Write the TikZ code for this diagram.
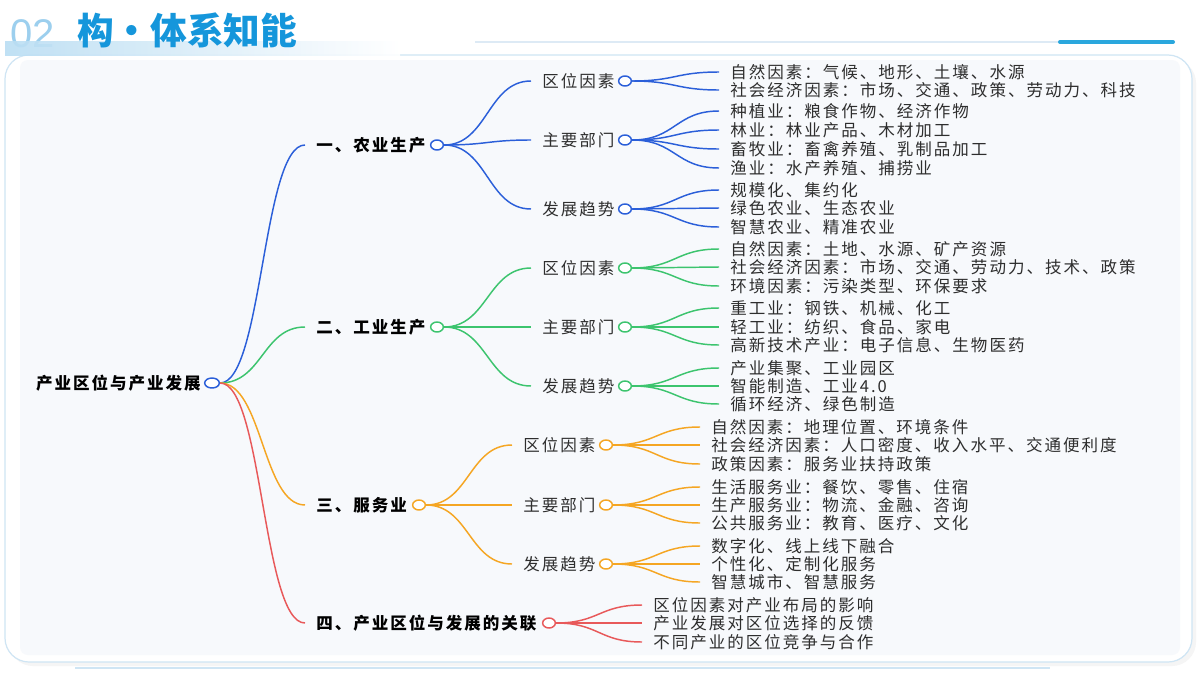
\documentclass[tikz,border=0pt]{standalone}
\usepackage{fontspec}
\usetikzlibrary{calc,shapes.geometric}
\setmainfont{Liberation Sans}
\newfontfamily\cjk{Noto Sans CJK SC}[LetterSpace=12]
\newfontfamily\cjkt{Noto Sans CJK SC}
\definecolor{cb}{HTML}{2B5FD9}
\definecolor{cg}{HTML}{3CC46E}
\definecolor{co}{HTML}{F5A623}
\definecolor{cr}{HTML}{E8595A}
\definecolor{ttl}{HTML}{1596DB}
\definecolor{num}{HTML}{9CCFEE}
\definecolor{txt}{HTML}{2E2E2E}
\definecolor{cardedge}{HTML}{CFE5F4}
\definecolor{panel}{HTML}{F7F9FC}
\definecolor{thinline}{HTML}{DDEAF5}
\definecolor{accent}{HTML}{2AA7DD}
\newcommand\mmlink[3]{\path[lnk=#1] let \p1=(#2.east),\p2=(#3.west) in (\p1) .. controls ({(\x1+\x2)/2},\y1) and ({(\x1+\x2)/2},\y2) .. (\p2);}
\tikzset{
  lbl/.style={anchor=west,inner xsep=8.25pt,inner ysep=0pt,text=txt,font=\cjk\fontsize{12.4pt}{14pt}\selectfont},
  lblb/.style={lbl,text=black,font=\cjk\bfseries\fontsize{12.4pt}{14pt}\selectfont},
  dot/.style={ellipse,draw=#1,fill=white,line width=1.1pt,minimum width=9.5pt,minimum height=7.5pt,inner sep=0pt},
  lnk/.style={draw=#1,line width=1.1pt},
  card/.style={draw=cardedge,line width=0.9pt,fill=white,rounded corners=18pt},
}
\begin{document}
\begin{tikzpicture}[x=0.75pt,y=-0.75pt]
\useasboundingbox (0,0) rectangle (1200,675);
\fill[white] (0,0) rectangle (1200,675);
% card
\fill[black!4,rounded corners=18pt] (9,59) rectangle (1196,666);
\path[card] (5,55) rectangle (1192,662);
\fill[panel,rounded corners=6pt] (20,60) rectangle (1180,655);
% title
\node[font=\fontsize{30pt}{32pt}\selectfont,text=num] (n02) at (33,34) {02};
\shade[left color=num!70,right color=white,fill opacity=0.9] (5,41) rectangle (400,55);
\node[anchor=west,inner sep=0pt,text=ttl,font=\cjkt\bfseries\fontsize{27.5pt}{30pt}\selectfont] (title) at (77,30) {构・体系知能};
\draw[thinline,line width=0.8pt] (475,42) -- (1058,42);
\draw[accent,line width=3pt,line cap=round] (1060,42) -- (1173,42);
\draw[cardedge,line width=1.5pt] (75,668) -- (1050,668);
% root
\node[lblb,anchor=east,inner xsep=0pt] (r) at (201,383) {产业区位与产业发展};
\node[dot=cb,minimum width=11pt] (rc) at (212,383) {};
% level 1
\node[lblb] (a) at (305,145) {一、农业生产}; \node[dot=cb] (ac) at (437,145) {};
\node[lblb] (b) at (305,327) {二、工业生产}; \node[dot=cg] (bc) at (437,327) {};
\node[lblb] (c) at (305,505) {三、服务业}; \node[dot=co] (cc) at (419,505) {};
\node[lblb] (d) at (305,623) {四、产业区位与发展的关联}; \node[dot=cr] (dc) at (549,623) {};
% level 2 agri
\node[lbl] (a1) at (531,81) {区位因素}; \node[dot=cb] (a1c) at (625,81) {};
\node[lbl] (a2) at (531,140) {主要部门}; \node[dot=cb] (a2c) at (625,140) {};
\node[lbl] (a3) at (531,209) {发展趋势}; \node[dot=cb] (a3c) at (625,209) {};
% level 2 industry
\node[lbl] (b1) at (531,268) {区位因素}; \node[dot=cg] (b1c) at (625,268) {};
\node[lbl] (b2) at (531,327) {主要部门}; \node[dot=cg] (b2c) at (625,327) {};
\node[lbl] (b3) at (531,386) {发展趋势}; \node[dot=cg] (b3c) at (625,386) {};
% level 2 service
\node[lbl] (c1) at (512,445) {区位因素}; \node[dot=co] (c1c) at (606,445) {};
\node[lbl] (c2) at (512,505) {主要部门}; \node[dot=co] (c2c) at (606,505) {};
\node[lbl] (c3) at (512,564) {发展趋势}; \node[dot=co] (c3c) at (606,564) {};
% level 3 agri
\node[lbl] (a11) at (719,72) {自然因素：气候、地形、土壤、水源};
\node[lbl] (a12) at (719,90) {社会经济因素：市场、交通、政策、劳动力、科技};
\node[lbl] (a21) at (719,111) {种植业：粮食作物、经济作物};
\node[lbl] (a22) at (719,130) {林业：林业产品、木材加工};
\node[lbl] (a23) at (719,149) {畜牧业：畜禽养殖、乳制品加工};
\node[lbl] (a24) at (719,168) {渔业：水产养殖、捕捞业};
\node[lbl] (a31) at (719,190) {规模化、集约化};
\node[lbl] (a32) at (719,208) {绿色农业、生态农业};
\node[lbl] (a33) at (719,227) {智慧农业、精准农业};
% level 3 industry
\node[lbl] (b11) at (719,249) {自然因素：土地、水源、矿产资源};
\node[lbl] (b12) at (719,267) {社会经济因素：市场、交通、劳动力、技术、政策};
\node[lbl] (b13) at (719,286) {环境因素：污染类型、环保要求};
\node[lbl] (b21) at (719,308) {重工业：钢铁、机械、化工};
\node[lbl] (b22) at (719,327) {轻工业：纺织、食品、家电};
\node[lbl] (b23) at (719,345) {高新技术产业：电子信息、生物医药};
\node[lbl] (b31) at (719,368) {产业集聚、工业园区};
\node[lbl] (b32) at (719,386) {智能制造、工业4.0};
\node[lbl] (b33) at (719,404) {循环经济、绿色制造};
% level 3 service
\node[lbl] (c11) at (700,427) {自然因素：地理位置、环境条件};
\node[lbl] (c12) at (700,445) {社会经济因素：人口密度、收入水平、交通便利度};
\node[lbl] (c13) at (700,464) {政策因素：服务业扶持政策};
\node[lbl] (c21) at (700,487) {生活服务业：餐饮、零售、住宿};
\node[lbl] (c22) at (700,505) {生产服务业：物流、金融、咨询};
\node[lbl] (c23) at (700,523) {公共服务业：教育、医疗、文化};
\node[lbl] (c31) at (700,546) {数字化、线上线下融合};
\node[lbl] (c32) at (700,564) {个性化、定制化服务};
\node[lbl] (c33) at (700,582) {智慧城市、智慧服务};
% level 3 relation
\node[lbl] (d1) at (642,605) {区位因素对产业布局的影响};
\node[lbl] (d2) at (642,623) {产业发展对区位选择的反馈};
\node[lbl] (d3) at (642,642) {不同产业的区位竞争与合作};
% links
\mmlink{cb}{rc}{a}\mmlink{cg}{rc}{b}\mmlink{co}{rc}{c}\mmlink{cr}{rc}{d}
\foreach \t in {a1,a2,a3} {\mmlink{cb}{ac}{\t}}
\foreach \t in {b1,b2,b3} {\mmlink{cg}{bc}{\t}}
\foreach \t in {c1,c2,c3} {\mmlink{co}{cc}{\t}}
\foreach \t in {d1,d2,d3} {\mmlink{cr}{dc}{\t}}
\foreach \t in {a11,a12} {\mmlink{cb}{a1c}{\t}}
\foreach \t in {a21,a22,a23,a24} {\mmlink{cb}{a2c}{\t}}
\foreach \t in {a31,a32,a33} {\mmlink{cb}{a3c}{\t}}
\foreach \t in {b11,b12,b13} {\mmlink{cg}{b1c}{\t}}
\foreach \t in {b21,b22,b23} {\mmlink{cg}{b2c}{\t}}
\foreach \t in {b31,b32,b33} {\mmlink{cg}{b3c}{\t}}
\foreach \t in {c11,c12,c13} {\mmlink{co}{c1c}{\t}}
\foreach \t in {c21,c22,c23} {\mmlink{co}{c2c}{\t}}
\foreach \t in {c31,c32,c33} {\mmlink{co}{c3c}{\t}}
\end{tikzpicture}
\end{document}
